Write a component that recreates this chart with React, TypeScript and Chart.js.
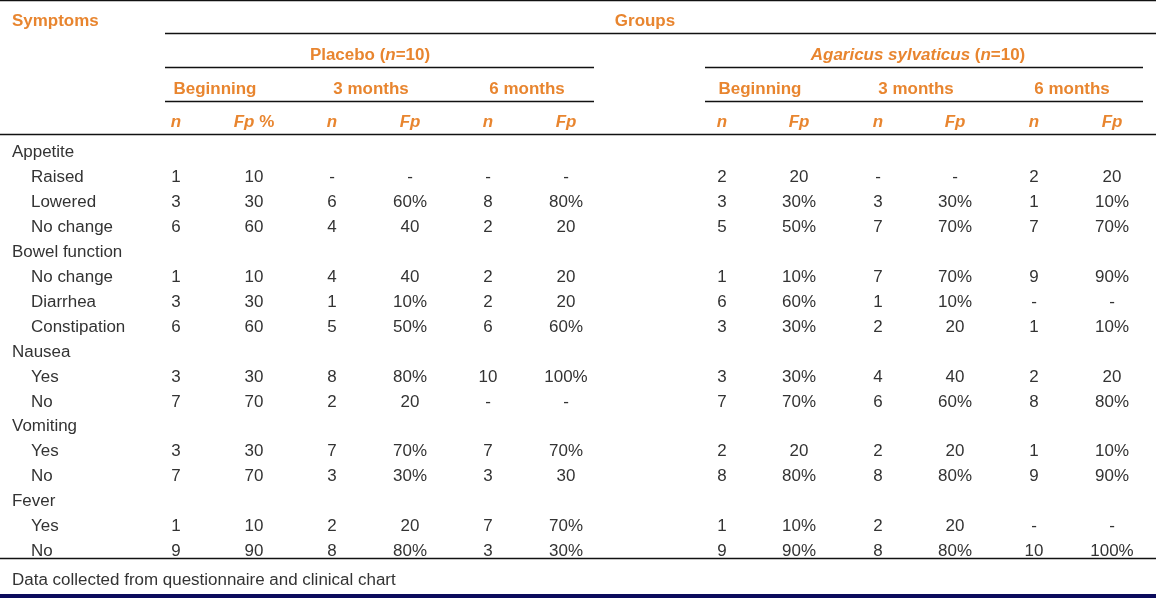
import React, { useEffect, useRef } from "react";
import { Chart, registerables } from "chart.js";

Chart.register(...registerables);

// ---------- data ----------
const rowLabels = [
  "Appetite", "Raised", "Lowered", "No change",
  "Bowel function", "No change", "Diarrhea", "Constipation",
  "Nausea", "Yes", "No",
  "Vomiting", "Yes", "No",
  "Fever", "Yes", "No",
];
const headingRows = [0, 4, 8, 11, 14];

const groupNames = ["Placebo", "Agaricus sylvaticus"];
const periodNames = ["Beginning", "3 months", "6 months"];

const placeboBeginN = ["", "1", "3", "6", "", "1", "3", "6", "", "3", "7", "", "3", "7", "", "1", "9"];
const placeboBeginFp = ["", "10", "30", "60", "", "10", "30", "60", "", "30", "70", "", "30", "70", "", "10", "90"];
const placebo3mN = ["", "-", "6", "4", "", "4", "1", "5", "", "8", "2", "", "7", "3", "", "2", "8"];
const placebo3mFp = ["", "-", "60%", "40", "", "40", "10%", "50%", "", "80%", "20", "", "70%", "30%", "", "20", "80%"];
const placebo6mN = ["", "-", "8", "2", "", "2", "2", "6", "", "10", "-", "", "7", "3", "", "7", "3"];
const placebo6mFp = ["", "-", "80%", "20", "", "20", "20", "60%", "", "100%", "-", "", "70%", "30", "", "70%", "30%"];
const agaricusBeginN = ["", "2", "3", "5", "", "1", "6", "3", "", "3", "7", "", "2", "8", "", "1", "9"];
const agaricusBeginFp = ["", "20", "30%", "50%", "", "10%", "60%", "30%", "", "30%", "70%", "", "20", "80%", "", "10%", "90%"];
const agaricus3mN = ["", "-", "3", "7", "", "7", "1", "2", "", "4", "6", "", "2", "8", "", "2", "8"];
const agaricus3mFp = ["", "-", "30%", "70%", "", "70%", "10%", "20", "", "40", "60%", "", "20", "80%", "", "20", "80%"];
const agaricus6mN = ["", "2", "1", "7", "", "9", "-", "1", "", "2", "8", "", "1", "9", "", "-", "10"];
const agaricus6mFp = ["", "20", "10%", "70%", "", "90%", "-", "10%", "", "20", "80%", "", "10%", "90%", "", "-", "100%"];

const footnote = "Data collected from questionnaire and clinical chart";

// ---------- layout ----------
const W = 1156;
const H = 598;
const FAM = '"Liberation Sans", Arial, sans-serif';
const SX = 1.06; // horizontal stretch of glyphs
const ORANGE = "#E8852F";
const BODY = "#333333";
const FS = 16;

const colX = [176, 254, 332, 410, 488, 566, 722, 799, 878, 955, 1034, 1112];
const columns = [
  placeboBeginN, placeboBeginFp, placebo3mN, placebo3mFp, placebo6mN, placebo6mFp,
  agaricusBeginN, agaricusBeginFp, agaricus3mN, agaricus3mFp, agaricus6mN, agaricus6mFp,
];
const ROW0 = 157; // baseline of first body row, px
const ROW_PX = 24.95;
const Y_MIN = -ROW0 / ROW_PX;
const Y_MAX = Y_MIN + H / ROW_PX;

type Run = { t: string; f: string };

function drawRuns(ctx: CanvasRenderingContext2D, runs: Run[], x: number, y: number, align: "left" | "center", color: string) {
  let total = 0;
  const widths: number[] = [];
  for (const r of runs) {
    ctx.font = r.f;
    const w = ctx.measureText(r.t).width;
    widths.push(w);
    total += w;
  }
  const start = align === "center" ? x - (total * SX) / 2 : x;
  ctx.save();
  ctx.translate(start, y);
  ctx.scale(SX, 1);
  ctx.fillStyle = color;
  ctx.textBaseline = "alphabetic";
  ctx.textAlign = "left";
  let cx = 0;
  runs.forEach((r, i) => {
    ctx.font = r.f;
    ctx.fillText(r.t, cx, 0);
    cx += widths[i];
  });
  ctx.restore();
}

const B = `bold ${FS}px ${FAM}`;
const BI = `italic bold ${FS}px ${FAM}`;
const R = `${FS}px ${FAM}`;

const tablePlugin = {
  id: "tableText",
  beforeDraw(chart: any) {
    const ctx = chart.ctx as CanvasRenderingContext2D;
    ctx.save();
    ctx.fillStyle = "#ffffff";
    ctx.fillRect(0, 0, chart.width, chart.height);
    ctx.restore();
  },
  afterDatasetsDraw(chart: any) {
    const ctx = chart.ctx as CanvasRenderingContext2D;
    const xs = chart.scales.x;
    const ys = chart.scales.y;
    const px = (v: number) => xs.getPixelForValue(v);

    // rules
    ctx.save();
    ctx.strokeStyle = "#111111";
    ctx.lineWidth = 1.3;
    const hline = (x0: number, x1: number, y: number) => {
      ctx.beginPath();
      ctx.moveTo(px(x0), y);
      ctx.lineTo(px(x1), y);
      ctx.stroke();
    };
    hline(0, W, 0.7);
    hline(165, W, 33.5);
    hline(165, 594, 67.5);
    hline(705, 1143, 67.5);
    hline(165, 594, 101.5);
    hline(705, 1143, 101.5);
    hline(0, W, 134.5);
    hline(0, W, 558.5);
    ctx.fillStyle = "#0b0b5c";
    ctx.fillRect(0, 594, chart.width, H - 594);
    ctx.restore();

    // header
    drawRuns(ctx, [{ t: "Symptoms", f: B }], 12, 26, "left", ORANGE);
    drawRuns(ctx, [{ t: "Groups", f: B }], px(645), 26, "center", ORANGE);
    drawRuns(ctx, [{ t: groupNames[0] + " (", f: B }, { t: "n", f: BI }, { t: "=10)", f: B }], px(370), 60, "center", ORANGE);
    drawRuns(ctx, [{ t: groupNames[1], f: BI }, { t: " (", f: B }, { t: "n", f: BI }, { t: "=10)", f: B }], px(918), 60, "center", ORANGE);
    const periodX = [215, 371, 527, 760, 916, 1072];
    periodX.forEach((x, i) => drawRuns(ctx, [{ t: periodNames[i % 3], f: B }], px(x), 94, "center", ORANGE));
    colX.forEach((x, i) => {
      let runs: Run[];
      if (i % 2 === 0) runs = [{ t: "n", f: BI }];
      else if (i === 1) runs = [{ t: "Fp", f: BI }, { t: " %", f: B }];
      else runs = [{ t: "Fp", f: BI }];
      drawRuns(ctx, runs, px(x), 127, "center", ORANGE);
    });

    // row labels
    rowLabels.forEach((lab, i) => {
      const y = ys.getPixelForValue(i);
      const isHead = headingRows.includes(i);
      drawRuns(ctx, [{ t: lab, f: R }], isHead ? 12 : 31, y, "left", BODY);
    });

    // cells from datasets
    chart.data.datasets.forEach((ds: any, di: number) => {
      const meta = chart.getDatasetMeta(di);
      meta.data.forEach((el: any, j: number) => {
        const txt = ds.cellText[j];
        if (txt) drawRuns(ctx, [{ t: txt, f: R }], el.x, el.y, "center", BODY);
      });
    });

    drawRuns(ctx, [{ t: footnote, f: R }], 12, 585, "left", BODY);
  },
};

export default function App() {
  const ref = useRef<HTMLCanvasElement | null>(null);
  useEffect(() => {
    if (!ref.current) return;
    const datasets = columns.map((col, c) => {
      const pts: { x: number; y: number }[] = [];
      const txt: string[] = [];
      col.forEach((v, i) => {
        if (v !== "") {
          pts.push({ x: colX[c], y: i });
          txt.push(v);
        }
      });
      return { label: `col${c}`, data: pts, cellText: txt, pointRadius: 0, pointHoverRadius: 0, showLine: false };
    });
    const chart = new Chart(ref.current, {
      type: "scatter",
      data: { datasets: datasets as any },
      options: {
        animation: false,
        responsive: false,
        layout: { padding: 0 },
        plugins: { legend: { display: false }, tooltip: { enabled: false } },
        scales: {
          x: { type: "linear", min: 0, max: W, display: false },
          y: { type: "linear", min: Y_MIN, max: Y_MAX, reverse: true, display: false },
        },
      },
      plugins: [tablePlugin as any],
    });
    return () => chart.destroy();
  }, []);
  return (
    <div style={{ position: "fixed", left: 0, top: 0, width: W, height: H, background: "#fff" }}>
      <canvas ref={ref} width={W} height={H} style={{ display: "block", width: W, height: H }} />
    </div>
  );
}
